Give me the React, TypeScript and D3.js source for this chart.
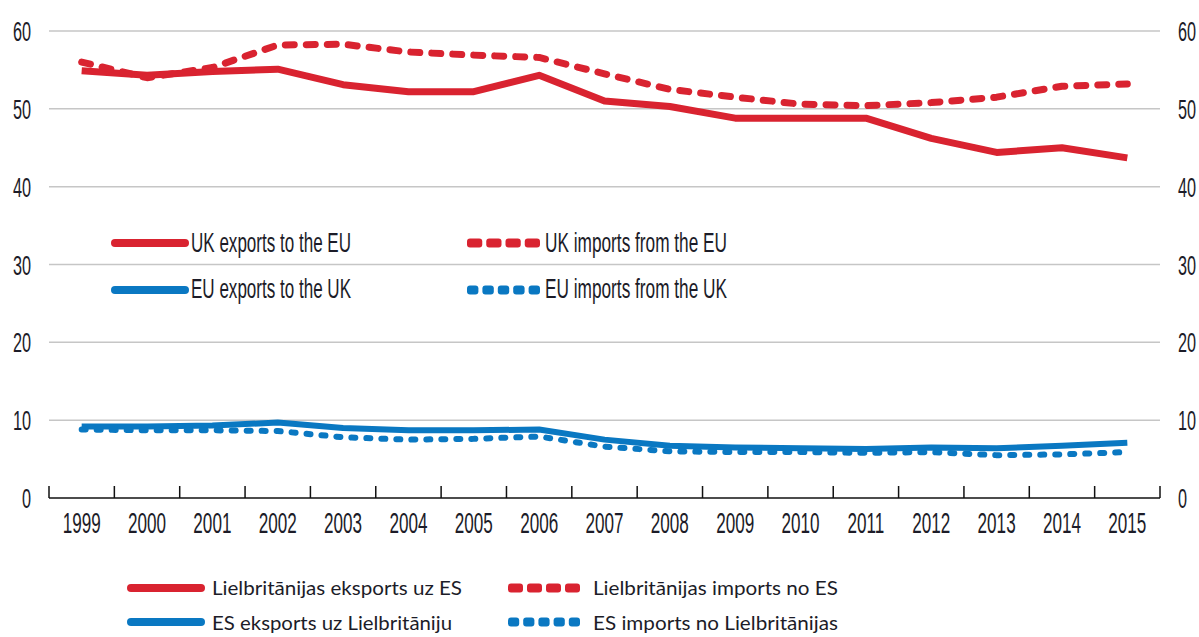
import React from "react";
import * as d3 from "d3";

const years = ["1999","2000","2001","2002","2003","2004","2005","2006","2007","2008","2009","2010","2011","2012","2013","2014","2015"];
const ukExports = [54.9, 54.3, 54.8, 55.1, 53.1, 52.2, 52.2, 54.3, 51.0, 50.3, 48.8, 48.8, 48.8, 46.2, 44.4, 45.0, 43.7];
const ukImports = [56.0, 54.0, 55.3, 58.2, 58.3, 57.3, 56.9, 56.6, 54.5, 52.5, 51.5, 50.6, 50.4, 50.8, 51.5, 52.9, 53.2];
const euExports = [9.2, 9.2, 9.3, 9.7, 9.0, 8.7, 8.7, 8.8, 7.5, 6.7, 6.5, 6.4, 6.3, 6.5, 6.4, 6.7, 7.1];
const euImports = [8.8, 8.7, 8.7, 8.6, 7.8, 7.5, 7.6, 7.9, 6.6, 6.0, 5.9, 5.9, 5.8, 5.9, 5.5, 5.6, 5.9];
const yTicks = [0, 10, 20, 30, 40, 50, 60];
const legendEn = ["UK exports to the EU", "UK imports from the EU", "EU exports to the UK", "EU imports from the UK"];
const legendLv = ["Lielbritānijas eksports uz ES", "Lielbritānijas imports no ES", "ES eksports uz Lielbritāniju", "ES imports no Lielbritānijas"];

const RED = "#d92330";
const BLUE = "#0a78c2";
const TXT = "#1c1c28";
const FONT = "'Liberation Sans', Arial, sans-serif";
const FONT2 = "Lato, 'Liberation Sans', sans-serif";

function NT({ x, y, anchor, size, sx, children }: any) {
  return (
    <text transform={`translate(${x},${y}) scale(${sx},1)`} textAnchor={anchor} fontSize={size}
      fontFamily={FONT} fill={TXT}>{children}</text>
  );
}

export default function App() {
  const W = 1199, H = 637;
  const x0 = 49, x1 = 1160, yTop = 31, yBot = 498;
  const xb = d3.scaleBand().domain(years).range([x0, x1]);
  const xc = (i: number) => (xb(years[i]) as number) + xb.bandwidth() / 2;
  const y = d3.scaleLinear().domain([0, 60]).range([yBot, yTop]);
  const line = d3.line<number>().x((_, i) => xc(i)).y(d => y(d));

  const series = [
    { data: ukExports, color: RED, width: 7, dash: "" },
    { data: ukImports, color: RED, width: 7, dash: "9 12" },
    { data: euExports, color: BLUE, width: 6, dash: "" },
    { data: euImports, color: BLUE, width: 6, dash: "4 11" },
  ];
  const boundaries = years.map(yr => xb(yr) as number).concat([x1]);

  const legendSample = (k: number, xa: number, xe: number, yy: number) => {
    const s = series[k];
    if (!s.dash) {
      return <line x1={xa} x2={xe} y1={yy} y2={yy} stroke={s.color} strokeWidth={8} strokeLinecap="round" />;
    }
    const n = k === 1 ? 4 : 5;
    const step = (xe - xa + 4) / n;
    const segs = d3.range(n).map(j => (
      <rect key={j} x={xa + j * step} y={yy - 4.5} width={step - 4} height={9} rx={3} fill={s.color} />
    ));
    return <g>{segs}</g>;
  };

  const enText = (i: number, x: number, yy: number, len: number) => (
    <text x={x} y={yy} fontFamily={FONT} fontSize={27} fill={TXT} textLength={len} lengthAdjust="spacingAndGlyphs">{legendEn[i]}</text>
  );
  const lvText = (i: number, x: number, yy: number, len: number) => (
    <text x={x} y={yy} fontFamily={FONT2} fontSize={19} fill={TXT} textLength={len} lengthAdjust="spacingAndGlyphs">{legendLv[i]}</text>
  );

  return (
    <svg width={W} height={H} style={{ position: "absolute", left: 0, top: 0, background: "#fff" }}>
      {yTicks.filter(t => t > 0).map(t => (
        <line key={t} x1={x0} x2={x1} y1={y(t)} y2={y(t)} stroke="#c6c6c6" strokeWidth={1.5} />
      ))}
      {yTicks.map(t => (
        <g key={"l" + t}>
          <NT x={31} y={y(t) + 10} anchor="end" size={28} sx={0.58}>{t}</NT>
          <NT x={1178} y={y(t) + 10} anchor="start" size={28} sx={0.58}>{t}</NT>
        </g>
      ))}
      <line x1={x0} x2={x1} y1={yBot} y2={yBot} stroke="#111" strokeWidth={1.5} />
      {boundaries.map((bx, i) => (
        <line key={"t" + i} x1={bx} x2={bx} y1={yBot - 12} y2={yBot} stroke="#111" strokeWidth={1.5} />
      ))}
      {years.map((yr, i) => (
        <NT key={yr} x={xc(i)} y={533} anchor="middle" size={29} sx={0.59}>{yr}</NT>
      ))}
      {series.map((s, i) => (
        <path key={i} d={line(s.data) || ""} fill="none" stroke={s.color} strokeWidth={s.width}
          strokeDasharray={s.dash || undefined} strokeLinecap={s.dash ? "round" : "butt"} strokeLinejoin="round" />
      ))}
      {/* English legend */}
      {legendSample(0, 115, 185, 243)}
      {enText(0, 191, 252, 160)}
      {legendSample(1, 467, 540, 243)}
      {enText(1, 545, 252, 182)}
      {legendSample(2, 115, 185, 290)}
      {enText(2, 191, 298, 160)}
      {legendSample(3, 467, 540, 290)}
      {enText(3, 545, 298, 182)}
      {/* Latvian legend */}
      {legendSample(0, 131, 201, 588)}
      {lvText(0, 212, 595, 250)}
      {legendSample(1, 508, 580, 588)}
      {lvText(1, 593, 595, 245)}
      {legendSample(2, 131, 201, 622)}
      {lvText(2, 212, 630, 240)}
      {legendSample(3, 508, 580, 622)}
      {lvText(3, 593, 630, 245)}
    </svg>
  );
}
